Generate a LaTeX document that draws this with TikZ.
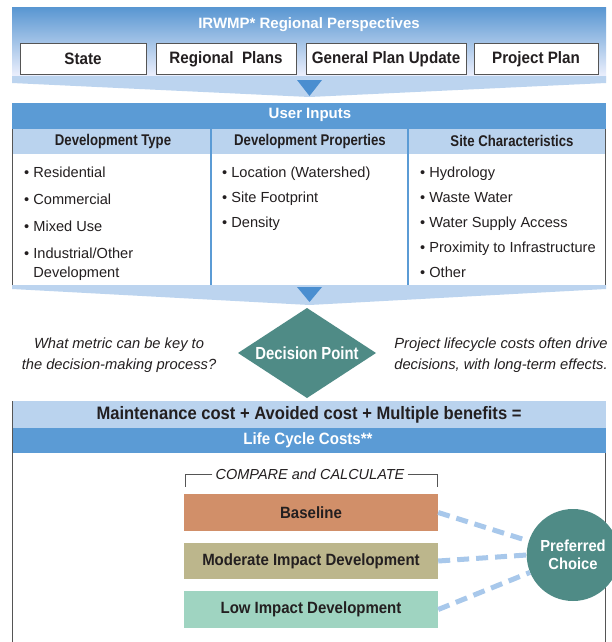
\documentclass[tikz,border=0pt]{standalone}
\usepackage{fontspec}
\setmainfont{Liberation Sans}
\newfontfamily\nar[FakeStretch=0.85]{Liberation Sans}
\newfontfamily\semi[FakeStretch=0.92]{Liberation Sans}
\usetikzlibrary{shapes.geometric}
\definecolor{bdark}{HTML}{5B9BD5}
\definecolor{blight}{HTML}{BAD3EE}
\definecolor{bandc}{HTML}{BCD4EF}
\definecolor{tric}{HTML}{4A8ED0}
\definecolor{tealc}{HTML}{4F8B86}
\definecolor{bordc}{HTML}{555555}
\definecolor{txtc}{HTML}{231F20}
\definecolor{orangec}{HTML}{D18F69}
\definecolor{khakic}{HTML}{BCB68C}
\definecolor{mintc}{HTML}{9FD4C1}
\definecolor{dashcol}{HTML}{A8C8EB}
\definecolor{topc}{HTML}{5A97D2}
\newcommand\fz[2]{\fontsize{#1}{#2}\selectfont}
\tikzset{
  btn/.style={draw=bordc, line width=1pt, fill=white, minimum height=30pt, inner sep=0pt, text=txtc, font=\semi\bfseries\fz{16.5}{20}},
  colhead/.style={inner sep=0pt, text=txtc, font=\nar\bfseries\fz{15.5}{19}},
  item/.style={anchor=base west, inner sep=0pt, text=txtc, font=\fz{14.6}{19}},
  sidetxt/.style={align=center, inner sep=0pt, text=txtc, font=\itshape\fz{14.7}{21}},
  optbox/.style={minimum width=254pt, inner sep=0pt, text=txtc, font=\semi\bfseries\fz{16.3}{20}},
  dashcon/.style={draw=dashcol, line width=5pt, dash pattern=on 12pt off 7pt},
  whitehead/.style={inner sep=0pt, text=white, font=\semi\bfseries\fz{16.4}{20}}
}
\begin{document}
\begin{tikzpicture}[x=1pt,y=-1pt]
\clip (0,0) rectangle (612,642);
\fill[white] (0,0) rectangle (612,642);
% top panel
\fill[top color=topc, bottom color=blue!4!white] (12,8) rectangle (606,80);
\fill[bandc] (12,76) -- (606,76) -- (606,83) -- (309.5,97) -- (12,83) -- cycle;
\fill[tric] (297,80) -- (322,80) -- (309.5,96) -- cycle;
\node[whitehead, font=\bfseries\fz{15}{18}] (irwmp) at (309,25) {IRWMP* Regional Perspectives};
\node[btn, minimum width=126pt] (state) at (83,59) {State};
\node[btn, minimum width=140pt] (regional) at (226,59) {Regional~~Plans};
\node[btn, minimum width=160pt] (general) at (386,59) {General Plan Update};
\node[btn, minimum width=124pt] (project) at (536,59) {Project Plan};
% user inputs panel
\fill[bdark] (12,103) rectangle (606,129);
\fill[blight] (12,129) rectangle (606,154);
\draw[bordc, line width=1pt] (12.5,129) -- (12.5,285);
\draw[bordc, line width=1pt] (605.5,129) -- (605.5,285);
\draw[bdark, line width=2pt] (211,129) -- (211,285);
\draw[bdark, line width=2pt] (408,129) -- (408,285);
\node[whitehead, font=\bfseries\fz{15}{18}] (ui) at (310,115) {User Inputs};
\node[colhead] (dtype) at (113,141) {Development Type};
\node[colhead] (dprop) at (310,141) {Development Properties};
\node[colhead] (site) at (512,141) {Site Characteristics};
\node[item] (i1) at (24,177) {• Residential};
\node[item] (i2) at (24,204) {• Commercial};
\node[item] (i3) at (24,231) {• Mixed Use};
\node[item] (i4) at (24,258) {• \begin{tabular}[t]{@{}l@{}}Industrial/Other\\Development\end{tabular}};
\node[item] (p1) at (222,177) {• Location (Watershed)};
\node[item] (p2) at (222,202) {• Site Footprint};
\node[item] (p3) at (222,227) {• Density};
\node[item] (s1) at (420,177) {• Hydrology};
\node[item] (s2) at (420,202) {• Waste Water};
\node[item] (s3) at (420,227) {• Water Supply Access};
\node[item] (s4) at (420,252) {• Proximity to Infrastructure};
\node[item] (s5) at (420,277) {• Other};
\fill[bandc] (12,285) -- (606,285) -- (606,289) -- (309.5,305) -- (12,289) -- cycle;
\fill[tric] (297,287) -- (322,287) -- (309.5,302) -- cycle;
% decision
\fill[tealc] (307,308) -- (376,353) -- (307,398) -- (238,353) -- cycle;
\node[inner sep=0pt, text=white, font=\nar\bfseries\fz{17.5}{20}] (dp) at (307,353) {Decision Point};
\node[sidetxt] (q) at (119,355) {What metric can be key to\\the decision-making process?};
\node[sidetxt] (note) at (501,355) {Project lifecycle costs often drive\\decisions, with long-term effects.};
% bottom panel
\fill[blight] (12,401) rectangle (606,428);
\fill[bdark] (12,428) rectangle (606,453);
\draw[bordc, line width=1pt] (12.5,401) -- (12.5,642);
\draw[bordc, line width=1pt] (605.5,453) -- (605.5,642);
\node[inner sep=0pt, text=txtc, font=\semi\bfseries\fz{18}{22}] (formula) at (309,415) {Maintenance cost + Avoided cost + Multiple benefits =};
\node[whitehead] (lcc) at (308,440) {Life Cycle Costs**};
\node[inner sep=3pt, text=txtc, font=\itshape\fz{14.5}{18}] (cmp) at (310,474) {COMPARE and CALCULATE};
\draw[bordc, line width=1pt] (cmp.west) -| (185,487);
\draw[bordc, line width=1pt] (cmp.east) -| (437,487);
\node[optbox, fill=orangec, minimum height=37pt] (base) at (311,512.5) {Baseline};
\node[optbox, fill=khakic, minimum height=36pt] (mod) at (311,561) {Moderate Impact Development};
\node[optbox, fill=mintc, minimum height=37pt] (low) at (311,609.5) {Low Impact Development};
\node[ellipse, fill=tealc, minimum width=86pt, minimum height=92pt, inner sep=0pt, align=center, text=white, font=\semi\bfseries\fz{16}{18}] (pref) at (573,555) {Preferred\\Choice};
\draw[dashcon] (base.east) -- (pref);
\draw[dashcon] (mod.east) -- (pref.west);
\draw[dashcon] (low.east) -- (pref);
\end{tikzpicture}
\end{document}
